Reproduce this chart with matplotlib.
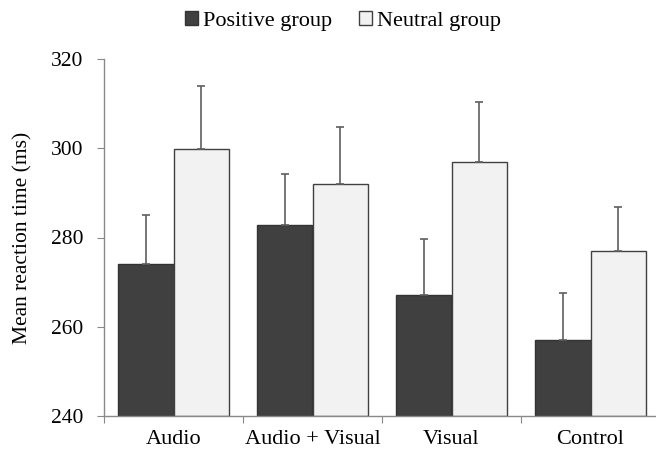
import matplotlib.pyplot as plt
import numpy as np

plt.rcParams["font.family"] = ["Liberation Serif", "DejaVu Serif"]

categories = ["Audio", "Audio + Visual", "Visual", "Control"]
positive = [274.0, 282.8, 267.1, 257.0]
positive_err = [11.0, 11.5, 12.6, 10.6]
neutral = [299.9, 292.1, 296.9, 276.9]
neutral_err = [14.1, 12.7, 13.4, 10.0]

DARK = "#404040"
LIGHT = "#f2f2f2"
AXIS_GRAY = "#898989"

fig = plt.figure(figsize=(6.56, 4.53), dpi=100)
# axes runs slightly past the right edge, as in the original
ax = fig.add_axes([104 / 656, 37 / 453, 556 / 656, 357 / 453])

x = np.arange(len(categories))
w = 0.4
ax.bar(x - w / 2, np.array(positive) - 240, w, bottom=240, color=DARK,
       edgecolor="#333333", linewidth=1.0, label="Positive group",
       yerr=[np.zeros(4), positive_err], capsize=3,
       error_kw=dict(ecolor="#5f5f5f", elinewidth=1.2, capthick=1.2))
ax.bar(x + w / 2, np.array(neutral) - 240, w, bottom=240, color=LIGHT,
       edgecolor="#404040", linewidth=1.0, label="Neutral group",
       yerr=[np.zeros(4), neutral_err], capsize=3,
       error_kw=dict(ecolor="#5f5f5f", elinewidth=1.2, capthick=1.2))

ax.set_xlim(-0.5, 3.5)
ax.set_ylim(240, 320)
ax.set_yticks([240, 260, 280, 300, 320])

# tick marks between categories, labels at centres
ax.set_xticks(np.arange(-0.5, 4.0, 1.0))
ax.set_xticklabels([])
ax.set_xticks(x, minor=True)
ax.set_xticklabels(categories, minor=True)
ax.tick_params(axis="x", which="minor", length=0, pad=10, labelsize=16)
ax.tick_params(axis="x", which="major", length=5, color=AXIS_GRAY, direction="out")
ax.tick_params(axis="y", length=5, color=AXIS_GRAY, direction="out", labelsize=15.5, pad=10)

for s in ["top", "right"]:
    ax.spines[s].set_visible(False)
for s in ["left", "bottom"]:
    ax.spines[s].set_color(AXIS_GRAY)
    ax.spines[s].set_linewidth(1.0)

ax.set_ylabel("Mean reaction time (ms)", fontsize=15.5)
ax.yaxis.set_label_coords(-0.128, 0.5)

fig.legend(loc="upper center", bbox_to_anchor=(343 / 656, 1.0), ncol=2,
           frameon=False, fontsize=16, handlelength=0.6, handleheight=0.6,
           handletextpad=0.23, columnspacing=1.2, borderaxespad=0.1)

fig.savefig("out.png", dpi=100)
